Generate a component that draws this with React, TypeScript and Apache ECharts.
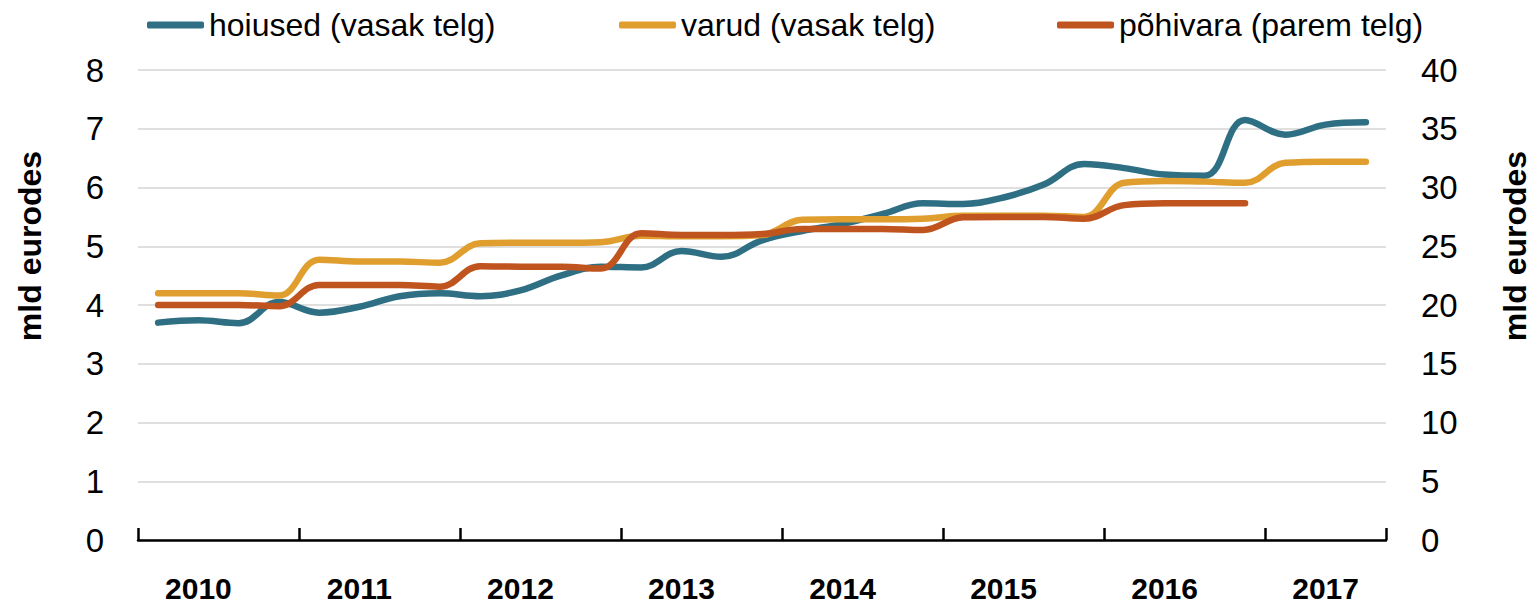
import React, { useEffect, useRef } from "react";
import * as echarts from "echarts";

const quarters: string[] = [
  "2010 Q1", "2010 Q2", "2010 Q3", "2010 Q4",
  "2011 Q1", "2011 Q2", "2011 Q3", "2011 Q4",
  "2012 Q1", "2012 Q2", "2012 Q3", "2012 Q4",
  "2013 Q1", "2013 Q2", "2013 Q3", "2013 Q4",
  "2014 Q1", "2014 Q2", "2014 Q3", "2014 Q4",
  "2015 Q1", "2015 Q2", "2015 Q3", "2015 Q4",
  "2016 Q1", "2016 Q2", "2016 Q3", "2016 Q4",
  "2017 Q1", "2017 Q2", "2017 Q3",
];

const hoiused: number[] = [
  3.70, 3.74, 3.69, 4.05, 3.87, 3.97, 4.15, 4.20,
  4.15, 4.25, 4.50, 4.65, 4.64, 4.92, 4.82, 5.10,
  5.26, 5.38, 5.55, 5.73, 5.72, 5.83, 6.05, 6.40,
  6.33, 6.22, 6.20, 7.15, 6.90, 7.07, 7.11,
];

const varud: number[] = [
  4.20, 4.20, 4.20, 4.16, 4.77, 4.74, 4.74, 4.72,
  5.05, 5.06, 5.06, 5.07, 5.18, 5.17, 5.17, 5.19,
  5.45, 5.46, 5.46, 5.47, 5.52, 5.52, 5.52, 5.50,
  6.08, 6.11, 6.10, 6.08, 6.42, 6.44, 6.44,
];

const pohivara: (number | null)[] = [
  20.0, 20.0, 20.0, 19.9, 21.7, 21.7, 21.7, 21.56,
  23.3, 23.26, 23.26, 23.1, 26.1, 25.96, 25.96, 26.04,
  26.47, 26.47, 26.47, 26.38, 27.46, 27.5, 27.5, 27.35,
  28.5, 28.65, 28.65, 28.65, null, null, null,
];

const seriesNames = ["hoiused (vasak telg)", "varud (vasak telg)", "põhivara (parem telg)"];
const colors = ["#2E6F84", "#E09E2F", "#C0541F"];
const axisTitle = "mld eurodes";

const FONT = "Liberation Sans";

export default function App() {
  const ref = useRef<HTMLDivElement>(null);
  useEffect(() => {
    if (!ref.current) return;
    const chart = echarts.init(ref.current, null, { renderer: "svg" });
    const legendLefts = [142, 614, 1052];
    const option: any = {
      animation: false,
      backgroundColor: "#ffffff",
      textStyle: { fontFamily: FONT },
      legend: seriesNames.map((n, i) => ({
        data: [n],
        left: legendLefts[i],
        top: 2,
        icon: "roundRect",
        itemWidth: 57,
        itemHeight: 7,
        textStyle: { fontFamily: FONT, fontSize: 32, color: "#000", lineHeight: 36 },
      })),
      grid: { left: 138, right: 150, top: 70, bottom: 63 },
      xAxis: {
        type: "category",
        data: quarters,
        boundaryGap: true,
        axisLine: { show: true, lineStyle: { color: "#000", width: 2.5 } },
        axisTick: {
          show: true,
          inside: true,
          length: 12,
          interval: (i: number) => i % 4 === 0,
          lineStyle: { color: "#000", width: 2.5 },
        },
        axisLabel: {
          interval: (i: number) => i % 4 === 1,
          formatter: (v: string) => v.slice(0, 4),
          fontFamily: FONT,
          fontWeight: "bold",
          fontSize: 30,
          lineHeight: 30,
          color: "#000",
          margin: 33,
        },
        splitLine: { show: false },
      },
      yAxis: [
        {
          type: "value",
          min: 0,
          max: 8,
          interval: 1,
          axisLine: { show: false },
          axisTick: { show: false },
          axisLabel: { fontFamily: FONT, fontSize: 33, color: "#000", margin: 34 },
          splitLine: { show: true, lineStyle: { color: "#d4d4d4", width: 1.5 } },
        },
        {
          type: "value",
          min: 0,
          max: 40,
          interval: 5,
          position: "right",
          axisLine: { show: false },
          axisTick: { show: false },
          axisLabel: { fontFamily: FONT, fontSize: 33, color: "#000", margin: 35 },
          splitLine: { show: false },
        },
      ],
      graphic: [
        {
          type: "text",
          x: 30,
          y: 246,
          rotation: Math.PI / 2,
          style: {
            text: axisTitle,
            font: `bold 32px "${FONT}"`,
            fill: "#000",
            textAlign: "center",
            textVerticalAlign: "middle",
          },
        },
        {
          type: "text",
          x: 1515,
          y: 246,
          rotation: Math.PI / 2,
          style: {
            text: axisTitle,
            font: `bold 32px "${FONT}"`,
            fill: "#000",
            textAlign: "center",
            textVerticalAlign: "middle",
          },
        },
      ],
      series: [
        {
          name: seriesNames[0],
          type: "line",
          yAxisIndex: 0,
          data: hoiused,
          smooth: 0.4,
          showSymbol: false,
          symbol: "none",
          lineStyle: { color: colors[0], width: 6.5, cap: "round", join: "round" },
          itemStyle: { color: colors[0] },
          z: 3,
        },
        {
          name: seriesNames[1],
          type: "line",
          yAxisIndex: 0,
          data: varud,
          smooth: 0.4,
          showSymbol: false,
          symbol: "none",
          lineStyle: { color: colors[1], width: 6.5, cap: "round", join: "round" },
          itemStyle: { color: colors[1] },
          z: 4,
        },
        {
          name: seriesNames[2],
          type: "line",
          yAxisIndex: 1,
          data: pohivara,
          smooth: 0.4,
          showSymbol: false,
          symbol: "none",
          lineStyle: { color: colors[2], width: 6.5, cap: "round", join: "round" },
          itemStyle: { color: colors[2] },
          z: 5,
        },
      ],
    };
    chart.setOption(option);
    return () => chart.dispose();
  }, []);
  return (
    <div
      ref={ref}
      style={{ position: "fixed", left: 0, top: 0, width: 1536, height: 603, background: "#fff" }}
    />
  );
}
